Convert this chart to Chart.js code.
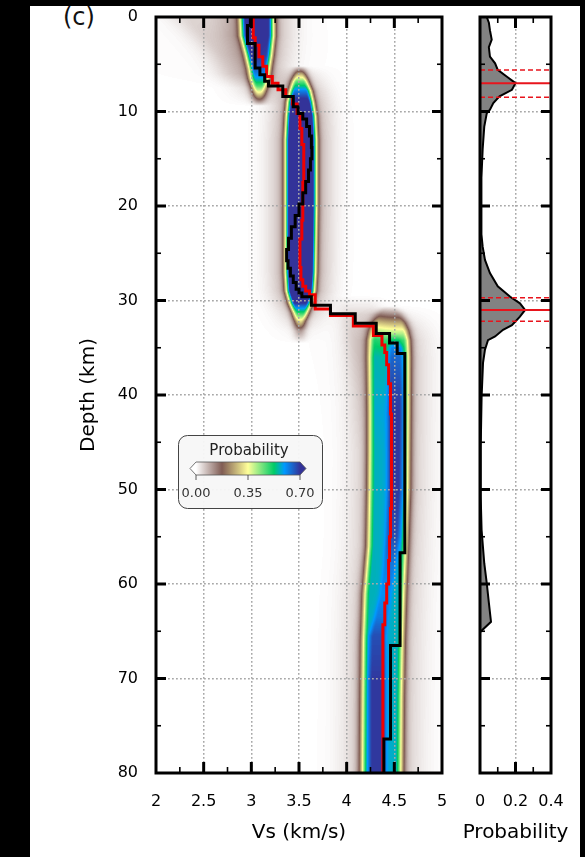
<!DOCTYPE html>
<html>
<head>
<meta charset="utf-8">
<script src="https://cdn.jsdelivr.net/npm/chart.js@4.4.1/dist/chart.umd.min.js"></script>
<style>
  html, body { margin: 0; padding: 0; background: #000; width: 585px; height: 857px; overflow: hidden; }
  #sheet { position: absolute; left: 30px; top: 6px; width: 550px; height: 851px; background: #fff; }
  #main { position: absolute; left: 0; top: 0; }
  #side { position: absolute; left: 460px; top: 0; }
  #tag { position: absolute; left: 63px; top: 5px; font: 24px "DejaVu Sans"; line-height: 24px; color: #111; }
</style>
</head>
<body>
<div id="sheet"></div>
<div id="tag">(c)</div>
<canvas id="main" width="470" height="857"></canvas>
<canvas id="side" width="125" height="857"></canvas>
<script>
// Axes
const vsTicks = [2, 2.5, 3, 3.5, 4, 4.5, 5];
const depthTicks = [0, 10, 20, 30, 40, 50, 60, 70, 80];
const probTicks = [0, 0.2, 0.4];
const cbarTicks = [0, 0.35, 0.7];

// Best model: Vs of each layer and its top depth (km)
const bestTop = [0, 0.9, 2.8, 5.4, 6.1, 6.8, 7.3, 8.4, 9.5, 10.2, 10.8, 11.6, 12.6, 13.8, 15.0, 16.2, 17.4, 18.6, 19.8, 21.0, 22.2, 23.4, 24.6, 25.8, 26.6, 27.4, 28.1, 28.8, 29.2, 29.6, 30.5, 31.4, 32.4, 33.5, 34.5, 35.6, 56.7, 66.5, 76.4, 80];
const bestVs = [2.99, 2.96, 3.04, 3.09, 3.14, 3.18, 3.33, 3.44, 3.49, 3.54, 3.58, 3.61, 3.63, 3.635, 3.62, 3.60, 3.57, 3.54, 3.50, 3.46, 3.42, 3.39, 3.37, 3.385, 3.41, 3.44, 3.47, 3.50, 3.53, 3.63, 3.83, 4.09, 4.31, 4.45, 4.53, 4.61, 4.56, 4.46, 4.39, 4.39];

// Mean model
const meanTop = [0, 2.2, 3.0, 4.2, 5.2, 6.3, 7.0, 7.7, 8.4, 9.2, 10.2, 11.8, 13.5, 17.5, 21.5, 23.5, 26.5, 27.8, 28.5, 29.0, 29.4, 30.9, 31.6, 32.7, 33.7, 34.7, 35.5, 36.8, 38.8, 42, 52, 55, 57.5, 60, 62, 64.3, 80];
const meanVs = [3.02, 3.04, 3.08, 3.12, 3.16, 3.22, 3.28, 3.36, 3.43, 3.48, 3.51, 3.53, 3.55, 3.54, 3.53, 3.51, 3.52, 3.54, 3.57, 3.61, 3.67, 3.83, 4.07, 4.28, 4.37, 4.40, 4.42, 4.44, 4.46, 4.47, 4.46, 4.45, 4.44, 4.42, 4.40, 4.38, 4.38];

// Posterior Vs density, described as ridges: depth knots, plateau edges, peak probability
const shallowDepth = [0, 2, 4, 5.5, 6.5, 7.3, 8.0, 8.7, 9.4];
const shallowLo = [2.95, 2.96, 3.01, 3.04, 3.05, 3.065, 3.075, 3.08, 3.08];
const shallowHi = [3.17, 3.17, 3.15, 3.13, 3.12, 3.10, 3.09, 3.085, 3.08];
const shallowPeak = [0.62, 0.62, 0.6, 0.56, 0.5, 0.42, 0.3, 0.15, 0];

const crustDepth = [5.2, 6.0, 6.8, 7.8, 9.0, 10.5, 13, 20, 27, 29, 30.3, 31.3, 32.2, 33.2, 34.5];
const crustLo = [3.51, 3.50, 3.48, 3.46, 3.44, 3.43, 3.42, 3.42, 3.42, 3.43, 3.46, 3.49, 3.505, 3.51, 3.51];
const crustHi = [3.51, 3.52, 3.54, 3.57, 3.59, 3.61, 3.62, 3.62, 3.61, 3.60, 3.57, 3.54, 3.515, 3.51, 3.51];
const crustPeak = [0, 0.22, 0.4, 0.55, 0.66, 0.72, 0.75, 0.75, 0.75, 0.72, 0.62, 0.45, 0.28, 0.1, 0];

const mantleDepth = [30.6, 31.4, 32.3, 33.2, 34.2, 36, 42, 50, 56, 61, 66, 72, 80];
const mantleLo = [4.44, 4.37, 4.33, 4.31, 4.30, 4.30, 4.305, 4.30, 4.29, 4.25, 4.235, 4.23, 4.225];
const mantleHi = [4.46, 4.52, 4.56, 4.58, 4.59, 4.59, 4.585, 4.58, 4.56, 4.54, 4.525, 4.515, 4.51];
const mantlePeak = [0, 0.1, 0.22, 0.33, 0.42, 0.47, 0.5, 0.5, 0.5, 0.5, 0.5, 0.5, 0.5];

const coreDepth = [33.5, 35, 40, 50, 55, 58, 61, 63.5, 65.5, 70, 80];
const coreLo = [4.50, 4.48, 4.47, 4.47, 4.45, 4.42, 4.38, 4.33, 4.28, 4.27, 4.27];
const coreHi = [4.52, 4.55, 4.55, 4.54, 4.52, 4.48, 4.44, 4.40, 4.37, 4.37, 4.37];
const corePeak = [0, 0.1, 0.12, 0.12, 0.1, 0.06, 0.04, 0.06, 0.1, 0.12, 0.12];

const hazeDepth = [0, 2, 4, 6, 7.5];
const hazeLo = [2.35, 2.55, 2.72, 2.82, 2.9];
const hazeHi = [2.9, 2.9, 2.9, 2.92, 2.95];
const hazePeak = [0.04, 0.045, 0.045, 0.035, 0];

const mohoHazeDepth = [29.5, 31.5, 35, 40, 46];
const mohoHazeLo = [4.0, 4.05, 4.12, 4.17, 4.2];
const mohoHazeHi = [4.2, 4.25, 4.27, 4.27, 4.27];
const mohoHazePeak = [0, 0.035, 0.03, 0.015, 0];

// Interface depth probability
const ifDepth = [0, 0.6, 1.4, 2.4, 3.2, 4.2, 4.9, 5.6, 6.3, 7.0, 7.7, 8.4, 9.1, 9.8, 10.2, 11.6, 14, 17, 23, 24.3, 25.7, 27.1, 28.5, 29.6, 30.3, 31.0, 31.7, 32.6, 33.1, 33.8, 34.2, 35.2, 36.6, 40.2, 45.5, 50.8, 54.3, 57.8, 59.9, 62, 64, 65.1, 80];
const ifProb = [0.038, 0.05, 0.056, 0.066, 0.05, 0.056, 0.085, 0.1, 0.15, 0.2, 0.18, 0.11, 0.075, 0.056, 0.038, 0.024, 0.015, 0.008, 0.008, 0.015, 0.028, 0.056, 0.1, 0.17, 0.225, 0.254, 0.225, 0.18, 0.13, 0.085, 0.045, 0.028, 0.017, 0.009, 0.004, 0.004, 0.009, 0.024, 0.038, 0.05, 0.062, 0, 0];
const ifMode = [7.0, 31.0];
const ifLow = [5.6, 29.7];
const ifHigh = [8.5, 32.2];

// terrain_r colormap, 0 .. 0.7
const vmax = 0.7;
const terrainR = [[0, [255, 255, 255]], [0.25, [128, 92, 84]], [0.5, [255, 255, 153]], [0.75, [0, 204, 102]], [0.85, [0, 153, 255]], [1, [51, 51, 153]]];
function cmap(t) {
    t = Math.max(0, Math.min(1, t));
    for (let i = 1; i < terrainR.length; i++) {
        if (t <= terrainR[i][0]) {
            const [t0, c0] = terrainR[i - 1], [t1, c1] = terrainR[i];
            const f = (t - t0) / (t1 - t0);
            return c0.map((c, k) => Math.round(c + (c1[k] - c) * f));
        }
    }
    return terrainR[terrainR.length - 1][1];
}
const lut = [];
for (let i = 0; i < 256; i++) lut.push(cmap(i / 255));

const ridges = [
    { depth: hazeDepth, lo: hazeLo, hi: hazeHi, peak: hazePeak, soft: 0.15 },
    { depth: mohoHazeDepth, lo: mohoHazeLo, hi: mohoHazeHi, peak: mohoHazePeak, soft: 0.1 },
    { depth: shallowDepth, lo: shallowLo, hi: shallowHi, peak: shallowPeak, soft: 0.05 },
    { depth: crustDepth, lo: crustLo, hi: crustHi, peak: crustPeak, soft: 0.045 },
    { depth: mantleDepth, lo: mantleLo, hi: mantleHi, peak: mantlePeak, soft: 0.055 },
    { depth: coreDepth, lo: coreLo, hi: coreHi, peak: corePeak, soft: 0.03 }
];

function ridgeAt(r, d) {
    const z = r.depth;
    if (d < z[0] || d > z[z.length - 1]) return null;
    let i = 0;
    while (i < z.length - 2 && d > z[i + 1]) i++;
    const f = (d - z[i]) / (z[i + 1] - z[i]);
    const mix = a => a[i] + (a[i + 1] - a[i]) * f;
    return { lo: mix(r.lo), hi: mix(r.hi), peak: mix(r.peak), soft: r.soft };
}

// Density image, drawn under the grid
const densityPlugin = {
    id: 'density',
    beforeDraw(chart) {
        const { ctx, chartArea: a, scales: { x, y } } = chart;
        const left = Math.round(a.left), top = Math.round(a.top);
        const w = Math.round(a.right) - left, h = Math.round(a.bottom) - top;
        const img = ctx.createImageData(w, h);
        const vs = [];
        for (let i = 0; i < w; i++) vs.push(x.getValueForPixel(left + i + 0.5));
        for (let j = 0; j < h; j++) {
            const d = y.getValueForPixel(top + j + 0.5);
            const rows = ridges.map(r => ridgeAt(r, d)).filter(Boolean);
            for (let i = 0; i < w; i++) {
                let val = 0;
                for (const r of rows) {
                    const dd = Math.max(0, r.lo - vs[i], vs[i] - r.hi);
                    const s2 = r.soft * r.soft;
                    val += r.peak * (Math.exp(-dd * dd / (2 * s2)) + 0.12 * Math.exp(-dd * dd / (25 * s2)));
                }
                const c = lut[Math.min(255, Math.round(val / vmax * 255))];
                const k = (j * w + i) * 4;
                img.data[k] = c[0];
                img.data[k + 1] = c[1];
                img.data[k + 2] = c[2];
                img.data[k + 3] = 255;
            }
        }
        ctx.putImageData(img, left, top);
    }
};

// Frame with inward ticks on all four sides
function frameTicks(xMajor, yMajor) {
    const mids = arr => arr.slice(1).map((v, i) => (v + arr[i]) / 2);
    return {
        id: 'frameTicks',
        afterDraw(chart) {
            const { ctx, chartArea: a, scales: { x, y } } = chart;
            ctx.save();
            ctx.strokeStyle = '#000';
            const seg = (x1, y1, x2, y2, lw) => {
                ctx.lineWidth = lw;
                ctx.beginPath();
                ctx.moveTo(x1, y1);
                ctx.lineTo(x2, y2);
                ctx.stroke();
            };
            xMajor.slice(1, -1).forEach(v => {
                const p = x.getPixelForValue(v);
                seg(p, a.bottom, p, a.bottom - 11, 3);
                seg(p, a.top, p, a.top + 11, 3);
            });
            mids(xMajor).forEach(v => {
                const p = x.getPixelForValue(v);
                seg(p, a.bottom, p, a.bottom - 6, 1.6);
                seg(p, a.top, p, a.top + 6, 1.6);
            });
            yMajor.slice(1, -1).forEach(v => {
                const p = y.getPixelForValue(v);
                seg(a.left, p, a.left + 10, p, 3);
                seg(a.right, p, a.right - 10, p, 3);
            });
            mids(yMajor).forEach(v => {
                const p = y.getPixelForValue(v);
                seg(a.left, p, a.left + 5, p, 1.6);
                seg(a.right, p, a.right - 5, p, 1.6);
            });
            ctx.lineWidth = 3;
            ctx.strokeRect(a.left, a.top, a.right - a.left, a.bottom - a.top);
            ctx.restore();
        }
    };
}

// x-axis title drawn without Chart.js squeezing it into the narrow panel
function bottomTitle(text) {
    return {
        id: 'bottomTitle',
        afterDraw(chart) {
            const { ctx, chartArea: a, scales: { x } } = chart;
            ctx.save();
            ctx.font = '20px "DejaVu Sans"';
            ctx.fillStyle = '#000';
            ctx.textAlign = 'center';
            ctx.textBaseline = 'middle';
            ctx.fillText(text, (a.left + a.right) / 2, x.bottom - 24);
            ctx.restore();
        }
    };
}

// Colour bar inset
const colorbarPlugin = {
    id: 'colorbar',
    afterDraw(chart) {
        const ctx = chart.ctx;
        const bx = 178, by = 435, bw = 144, bh = 73;
        const x0 = 196, x1 = 300, y0 = 462, y1 = 475, ym = (y0 + y1) / 2;
        ctx.save();
        ctx.beginPath();
        ctx.roundRect(bx + 0.5, by + 0.5, bw, bh, 9);
        ctx.fillStyle = 'rgba(247,247,247,0.95)';
        ctx.fill();
        ctx.strokeStyle = '#444';
        ctx.lineWidth = 1;
        ctx.stroke();

        ctx.fillStyle = '#222';
        ctx.font = '15px "DejaVu Sans"';
        ctx.textAlign = 'center';
        ctx.textBaseline = 'middle';
        ctx.fillText('Probability', 249, 451);

        const g = ctx.createLinearGradient(x0, 0, x1, 0);
        terrainR.forEach(([t, c]) => g.addColorStop(t, `rgb(${c[0]},${c[1]},${c[2]})`));
        ctx.fillStyle = g;
        ctx.fillRect(x0, y0, x1 - x0, y1 - y0);
        const lo = terrainR[0][1], hi = terrainR[terrainR.length - 1][1];
        ctx.fillStyle = `rgb(${lo[0]},${lo[1]},${lo[2]})`;
        ctx.beginPath(); ctx.moveTo(x0, y0); ctx.lineTo(x0 - 6, ym); ctx.lineTo(x0, y1); ctx.closePath(); ctx.fill();
        ctx.fillStyle = `rgb(${hi[0]},${hi[1]},${hi[2]})`;
        ctx.beginPath(); ctx.moveTo(x1, y0); ctx.lineTo(x1 + 6, ym); ctx.lineTo(x1, y1); ctx.closePath(); ctx.fill();
        ctx.strokeStyle = '#555';
        ctx.lineWidth = 0.8;
        ctx.beginPath();
        ctx.moveTo(x0, y0); ctx.lineTo(x1, y0); ctx.lineTo(x1 + 6, ym); ctx.lineTo(x1, y1);
        ctx.lineTo(x0, y1); ctx.lineTo(x0 - 6, ym); ctx.closePath();
        ctx.stroke();

        ctx.font = '13px "DejaVu Sans"';
        ctx.fillStyle = '#333';
        ctx.strokeStyle = '#333';
        cbarTicks.forEach(v => {
            const px = x0 + (x1 - x0) * v / vmax;
            ctx.beginPath(); ctx.moveTo(px, y1); ctx.lineTo(px, y1 + 5); ctx.stroke();
            ctx.fillText(v.toFixed(2), px, 494);
        });
        ctx.restore();
    }
};

Chart.defaults.font.family = '"DejaVu Sans", sans-serif';
Chart.defaults.color = '#000';

const gridStyle = { color: '#a8a8a8', lineWidth: 1.5, drawTicks: false };
const dotted = { display: false, dash: [1.8, 2.2] };
const titleFont = { size: 20 };
const tickFont = { size: 16 };
const noPad = s => { s.paddingTop = 0; s.paddingBottom = 0; s.paddingLeft = 0; s.paddingRight = 0; };

new Chart(document.getElementById('main'), {
    type: 'line',
    data: {
        datasets: [{
            data: bestTop.map((d, i) => ({ x: bestVs[i], y: d })),
            borderColor: '#000',
            borderWidth: 3,
            stepped: 'after',
            pointRadius: 0
        }, {
            data: meanTop.map((d, i) => ({ x: meanVs[i], y: d })),
            borderColor: '#f00000',
            borderWidth: 3,
            stepped: 'after',
            pointRadius: 0
        }]
    },
    options: {
        indexAxis: 'y',
        responsive: false,
        animation: false,
        layout: { padding: { left: 75, right: 28, top: 17, bottom: 0 }, autoPadding: false },
        plugins: { legend: { display: false }, tooltip: { enabled: false } },
        scales: {
            x: {
                type: 'linear', min: 2, max: 5,
                afterBuildTicks: s => { s.ticks = vsTicks.map(v => ({ value: v })); },
                afterFit: s => { s.height = 84; noPad(s); },
                ticks: { font: tickFont, padding: 19, maxRotation: 0, autoSkip: false, callback: v => String(v) },
                grid: gridStyle,
                border: dotted,
                title: { display: true, text: 'Vs (km/s)', font: titleFont, padding: { top: 0, bottom: 12 } }
            },
            y: {
                type: 'linear', min: 0, max: 80, reverse: true,
                afterBuildTicks: s => { s.ticks = depthTicks.map(v => ({ value: v })); },
                afterFit: s => { s.width = 81; noPad(s); },
                ticks: { font: tickFont, padding: 18, autoSkip: false, callback: v => String(v) },
                grid: gridStyle,
                border: dotted,
                title: { display: true, text: 'Depth (km)', font: titleFont, padding: { top: 2, bottom: 0 } }
            }
        }
    },
    plugins: [densityPlugin, frameTicks(vsTicks, depthTicks), colorbarPlugin]
});

const redLine = (d, dashed) => ({
    data: [{ x: probTicks[0], y: d }, { x: probTicks[probTicks.length - 1], y: d }],
    borderColor: '#e8141c',
    borderWidth: dashed ? 1.5 : 2,
    borderDash: dashed ? [5, 3] : [],
    pointRadius: 0
});

new Chart(document.getElementById('side'), {
    type: 'line',
    data: {
        datasets: [
            ...ifMode.map(d => redLine(d, false)),
            ...ifLow.map(d => redLine(d, true)),
            ...ifHigh.map(d => redLine(d, true)),
            {
                data: ifDepth.map((d, i) => ({ x: ifProb[i], y: d })),
                borderColor: '#000',
                borderWidth: 2,
                backgroundColor: '#828282',
                fill: 'origin',
                pointRadius: 0
            }
        ]
    },
    options: {
        indexAxis: 'y',
        responsive: false,
        animation: false,
        layout: { padding: { left: 0, right: 34, top: 17, bottom: 0 }, autoPadding: false },
        plugins: { legend: { display: false }, tooltip: { enabled: false } },
        scales: {
            x: {
                type: 'linear', min: 0, max: 0.4,
                afterBuildTicks: s => { s.ticks = probTicks.map(v => ({ value: v })); },
                afterFit: s => { s.height = 84; noPad(s); },
                ticks: { font: tickFont, padding: 19, maxRotation: 0, autoSkip: false, callback: v => String(v) },
                grid: gridStyle,
                border: dotted
            },
            y: {
                type: 'linear', min: 0, max: 80, reverse: true,
                afterBuildTicks: s => { s.ticks = depthTicks.map(v => ({ value: v })); },
                afterFit: s => { s.width = 20; noPad(s); },
                ticks: { display: false },
                grid: gridStyle,
                border: dotted
            }
        }
    },
    plugins: [frameTicks(probTicks, depthTicks), bottomTitle('Probability')]
});
</script>
</body>
</html>
